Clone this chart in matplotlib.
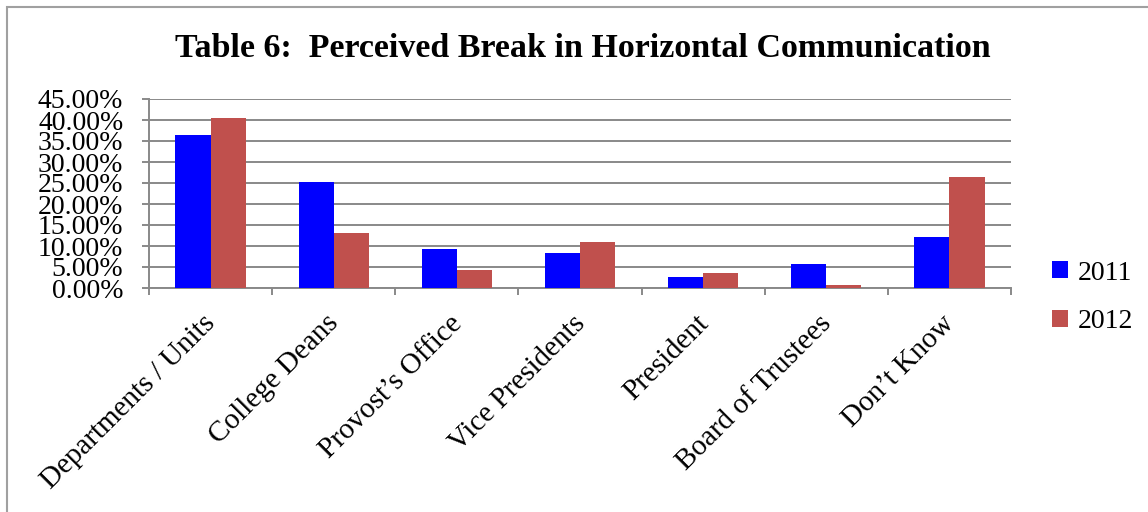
import matplotlib.pyplot as plt
import numpy as np
from matplotlib.patches import Rectangle
from matplotlib.ticker import FixedLocator, PercentFormatter
from matplotlib.transforms import ScaledTranslation

# values (percent)
categories=['Departments / Units','College Deans','Provost\u2019s Office','Vice Presidents',
            'President','Board of Trustees','Don\u2019t Know']
y2011=[36.4,25.2,9.2,8.4,2.7,5.6,12.1]
y2012=[40.4,13.2,4.3,11.0,3.6,0.6,26.4]
years=['2011','2012']
colors=['#0000FF','#C0504D']
grid_c='#898989'

plt.rcParams['font.family']=['Liberation Serif','DejaVu Serif']

fig=plt.figure(figsize=(11.48,5.12),dpi=100)
fig.patches.append(Rectangle((7/1148,-1),2,2-7/512,transform=fig.transFigure,
                             fill=False,edgecolor='#a0a0a0',linewidth=1.5))

ax=fig.add_axes([149/1148,1-288/512,862/1148,189/512])
x=np.arange(len(categories))
w=0.285
ax.bar(x-w/2,y2011,w,color=colors[0],label=years[0],zorder=3)
ax.bar(x+w/2,y2012,w,color=colors[1],label=years[1],zorder=3)

ax.set_xlim(-0.5,len(categories)-0.5)
ax.set_ylim(0,45)
ax.set_yticks(np.arange(0,46,5))
ax.yaxis.set_major_formatter(PercentFormatter(decimals=2))
ax.grid(axis='y',color=grid_c,linewidth=1.4,zorder=0)

ax.xaxis.set_major_locator(FixedLocator(np.arange(-0.5,len(categories),1)))
ax.xaxis.set_major_formatter(plt.NullFormatter())
ax.xaxis.set_minor_locator(FixedLocator(x))
ax.set_xticklabels(categories,minor=True,rotation=45,ha='right',rotation_mode='anchor',fontsize=21)
ax.tick_params(axis='x',which='minor',length=0,pad=16)
ax.tick_params(axis='x',which='major',length=5,width=1.4,color=grid_c)
ax.tick_params(axis='y',length=5,width=1.4,color=grid_c,labelsize=20,pad=13.5)

# nudge the slanted labels a little to the left
shift=ScaledTranslation(-8/100,0,fig.dpi_scale_trans)
for lab in ax.get_xticklabels(minor=True):
    lab.set_transform(lab.get_transform()+shift)

for s in ['top','right']:
    ax.spines[s].set_visible(False)
for s in ['left','bottom']:
    ax.spines[s].set_color(grid_c)
    ax.spines[s].set_linewidth(1.4)

fig.text(0.508,0.905,'Table 6:  Perceived Break in Horizontal Communication',
         ha='center',va='center',fontsize=24.5,fontweight='bold')

ax.legend(loc='center left',bbox_to_anchor=(1.019,-0.05),frameon=False,fontsize=20,
          handlelength=0.55,handleheight=0.55,handletextpad=0.35,labelspacing=0.85)

fig.savefig('out.png',dpi=100)
